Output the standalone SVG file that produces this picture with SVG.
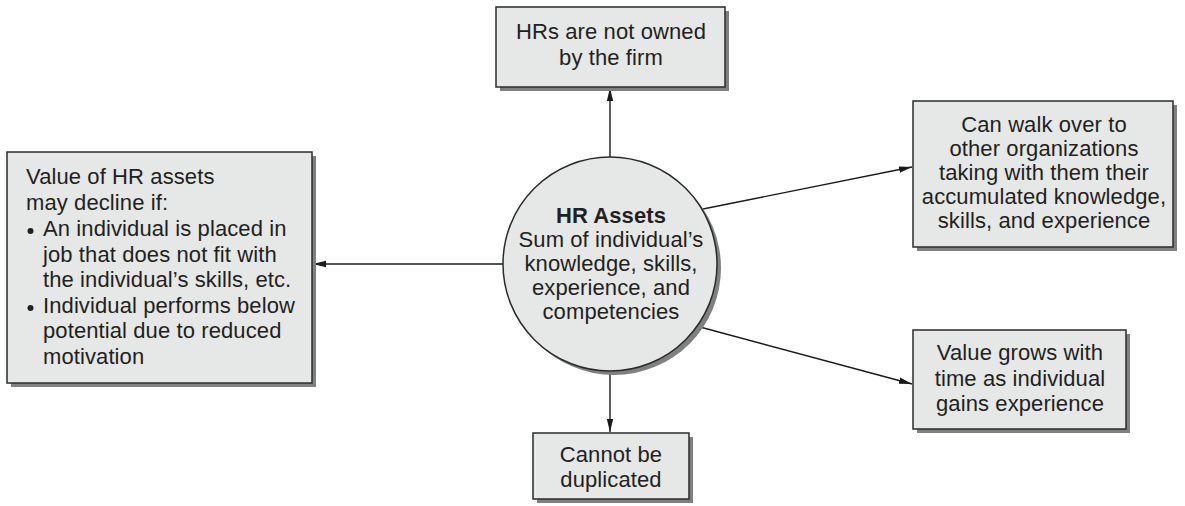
<svg xmlns="http://www.w3.org/2000/svg" width="1185" height="506" viewBox="0 0 1185 506">
<defs>
<style>
.box{fill:#e6e7e7;stroke:#2b2b2b;stroke-width:1.5}
.shadow{fill:#808080}
.t{font-family:"Liberation Sans",Arial,Helvetica,sans-serif;font-size:22px;fill:#231f20;letter-spacing:0.1px}
.c{text-anchor:middle}
.b{font-weight:bold}
.edge{stroke:#1a1a1a;stroke-width:1.4;fill:none;marker-end:url(#arr)}
</style>
<marker id="arr" markerWidth="14" markerHeight="8" refX="13" refY="4" orient="auto" markerUnits="userSpaceOnUse">
<path d="M0,0.8 L13,4 L0,7.2 Z" fill="#1a1a1a"/>
</marker>
</defs>
<rect width="1185" height="506" fill="#ffffff"/>

<g id="connectors">
<line class="edge" x1="610" y1="157" x2="610" y2="88"/>
<line class="edge" x1="503" y1="264" x2="313" y2="264"/>
<line class="edge" x1="703" y1="209" x2="912" y2="167"/>
<line class="edge" x1="700" y1="327" x2="912" y2="384"/>
<line class="edge" x1="610" y1="371" x2="610" y2="432"/>
</g>

<g id="hr-assets">
<circle cx="614" cy="268" r="107" class="shadow"/>
<circle cx="610" cy="264" r="107" class="box"/>
<text class="t c b" x="611" y="223">HR Assets</text>
<text class="t c" x="611" y="247">Sum of individual’s</text>
<text class="t c" x="611" y="271">knowledge, skills,</text>
<text class="t c" x="611" y="295">experience, and</text>
<text class="t c" x="611" y="319">competencies</text>
</g>

<g id="not-owned">
<rect x="500" y="11" width="229" height="80" class="shadow"/>
<rect x="496" y="7" width="229" height="80" class="box"/>
<text class="t c" x="611" y="39">HRs are not owned</text>
<text class="t c" x="611" y="65">by the firm</text>
</g>

<g id="decline">
<rect x="11" y="156" width="305" height="231" class="shadow"/>
<rect x="7" y="152" width="305" height="231" class="box"/>
<text class="t" x="26" y="184">Value of HR assets</text>
<text class="t" x="26" y="210">may decline if:</text>
<circle cx="30.5" cy="231" r="3" fill="#231f20"/>
<text class="t" x="43" y="236">An individual is placed in</text>
<text class="t" x="43" y="262">job that does not fit with</text>
<text class="t" x="43" y="287">the individual’s skills, etc.</text>
<circle cx="30.5" cy="308" r="3" fill="#231f20"/>
<text class="t" x="43" y="313">Individual performs below</text>
<text class="t" x="43" y="338">potential due to reduced</text>
<text class="t" x="43" y="364">motivation</text>
</g>

<g id="walk-over">
<rect x="917" y="105" width="260" height="146" class="shadow"/>
<rect x="913" y="101" width="260" height="146" class="box"/>
<text class="t c" x="1044" y="132">Can walk over to</text>
<text class="t c" x="1044" y="156">other organizations</text>
<text class="t c" x="1044" y="180">taking with them their</text>
<text class="t c" x="1044" y="204">accumulated knowledge,</text>
<text class="t c" x="1044" y="228">skills, and experience</text>
</g>

<g id="value-grows">
<rect x="917" y="334" width="213" height="99" class="shadow"/>
<rect x="913" y="330" width="213" height="99" class="box"/>
<text class="t c" x="1020" y="360">Value grows with</text>
<text class="t c" x="1020" y="386">time as individual</text>
<text class="t c" x="1020" y="411">gains experience</text>
</g>

<g id="no-duplicate">
<rect x="537" y="437" width="156" height="66" class="shadow"/>
<rect x="533" y="433" width="156" height="66" class="box"/>
<text class="t c" x="611" y="462">Cannot be</text>
<text class="t c" x="611" y="487">duplicated</text>
</g>
</svg>
